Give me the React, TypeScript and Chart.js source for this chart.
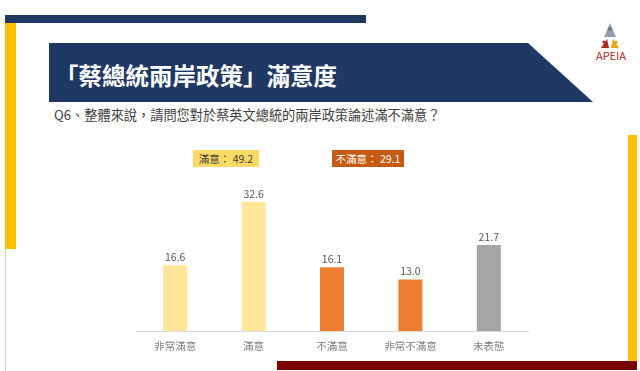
import React, { useEffect, useRef } from "react";
import { Chart, registerables } from "chart.js";

Chart.register(...registerables);

const categories = ["非常滿意", "滿意", "不滿意", "非常不滿意", "未表態"];
const values = [16.6, 32.6, 16.1, 13.0, 21.7];
const barColors = ["#FFE699", "#FFE699", "#ED7D31", "#ED7D31", "#A5A5A5"];
const titleText = "「蔡總統兩岸政策」滿意度";
const questionText = "Q6、整體來說，請問您對於蔡英文總統的兩岸政策論述滿不滿意？";
const satisfiedLabel = "滿意：";
const satisfiedTotal = 49.2;
const dissatisfiedLabel = "不滿意：";
const dissatisfiedTotal = 29.1;

const FONT = '"Noto Sans CJK TC", "Noto Sans", sans-serif';

const valueLabelPlugin = {
  id: "valueLabels",
  afterDatasetsDraw(chart: any) {
    const ctx = chart.ctx;
    const meta = chart.getDatasetMeta(0);
    ctx.save();
    ctx.font = `10.5px ${FONT}`;
    ctx.fillStyle = "#595959";
    ctx.textAlign = "center";
    ctx.textBaseline = "bottom";
    meta.data.forEach((el: any, i: number) => {
      const v = chart.data.datasets[0].data[i] as number;
      ctx.fillText(v.toFixed(1), el.x, el.y - 3);
    });
    ctx.restore();
  },
};

export default function App() {
  const canvasRef = useRef<HTMLCanvasElement | null>(null);

  useEffect(() => {
    if (!canvasRef.current) return;
    const chart = new Chart(canvasRef.current, {
      type: "bar",
      data: {
        labels: categories,
        datasets: [
          {
            data: values,
            backgroundColor: barColors,
            borderWidth: 0,
            barPercentage: 0.306,
            categoryPercentage: 1,
          },
        ],
      },
      options: {
        animation: false,
        responsive: false,
        maintainAspectRatio: false,
        devicePixelRatio: 1,
        layout: { padding: { left: 136, right: 112, top: 172.6, bottom: 9.4 } },
        plugins: {
          legend: { display: false },
          tooltip: { enabled: false },
          title: { display: false },
        },
        scales: {
          x: {
            grid: { display: false, drawTicks: false },
            border: { display: true, color: "#D9D9D9", width: 1 },
            ticks: {
              padding: 9,
              color: "#808080",
              font: { family: FONT, size: 10.5 },
            },
          },
          y: {
            display: false,
            min: 0,
            max: 40,
          },
        },
      },
      plugins: [valueLabelPlugin],
    });
    return () => chart.destroy();
  }, []);

  return (
    <div
      style={{
        position: "fixed",
        left: 0,
        top: 0,
        width: 640,
        height: 371,
        background: "#ffffff",
        overflow: "hidden",
        fontFamily: FONT,
      }}
    >
      <svg
        width={640}
        height={371}
        style={{ position: "absolute", left: 0, top: 0 }}
      >
        <rect x={5} y={15} width={361} height={8} fill="#203864" />
        <rect x={5} y={23} width={11} height={226} fill="#FFC000" />
        <rect x={5} y={249} width={1} height={122} fill="#D0D0D0" />
        <polygon points="49,43 528,43 593,102 49,102" fill="#203864" />
        <rect x={628} y={135} width={9} height={227} fill="#FFC000" />
        <rect x={277} y={361} width={360} height={9} fill="#7B0000" />
        {/* logo */}
        <circle cx={610} cy={29} r={2.3} fill="#5A6B7D" />
        <polygon points="610,23 604,37 616,37" fill="#7A8A9A" opacity={0.8} />
        <polygon points="601,48 607,39 609,48" fill="#B0281E" />
        <circle cx={604} cy={42} r={1.6} fill="#B0281E" />
        <polygon points="619,48 613,39 611,48" fill="#E8A317" />
        <circle cx={616} cy={42} r={1.6} fill="#E8A317" />
        <text
          x={611}
          y={60}
          textAnchor="middle"
          fontSize={11}
          fontFamily={FONT}
          fill="#A52A1E"
        >
          APEIA
        </text>
      </svg>
      <div
        style={{
          position: "absolute",
          left: 55,
          top: 62,
          fontSize: 23.5,
          lineHeight: "26px",
          fontWeight: 700,
          color: "#ffffff",
          whiteSpace: "nowrap",
        }}
      >
        {titleText}
      </div>
      <div
        style={{
          position: "absolute",
          left: 54,
          top: 107,
          fontSize: 13.2,
          lineHeight: "16px",
          color: "#404040",
          whiteSpace: "nowrap",
        }}
      >
        {questionText}
      </div>
      <canvas
        ref={canvasRef}
        width={640}
        height={371}
        style={{ position: "absolute", left: 0, top: 0, width: 640, height: 371 }}
      />
      <div
        style={{
          position: "absolute",
          left: 193,
          top: 150,
          width: 66,
          height: 17,
          background: "#FFD966",
          color: "#404040",
          fontSize: 10.5,
          lineHeight: "17px",
          textAlign: "center",
          whiteSpace: "nowrap",
        }}
      >
        {satisfiedLabel} {satisfiedTotal.toFixed(1)}
      </div>
      <div
        style={{
          position: "absolute",
          left: 332,
          top: 150,
          width: 72,
          height: 17,
          background: "#C55A11",
          color: "#ffffff",
          fontSize: 10.5,
          lineHeight: "17px",
          textAlign: "center",
          whiteSpace: "nowrap",
        }}
      >
        {dissatisfiedLabel} {dissatisfiedTotal.toFixed(1)}
      </div>
    </div>
  );
}
